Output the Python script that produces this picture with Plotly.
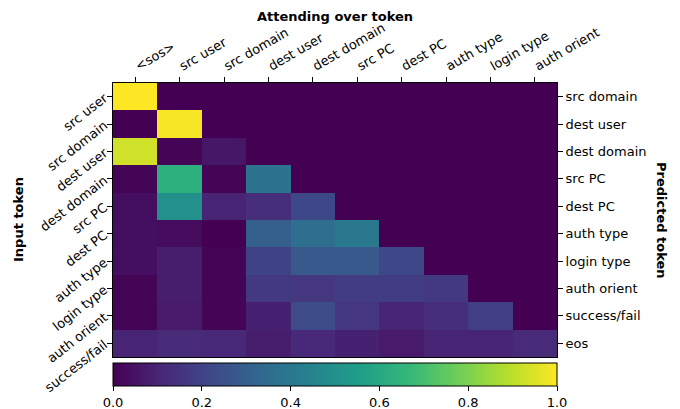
import plotly.graph_objects as go

attended = ["<sos>", "src user", "src domain", "dest user", "dest domain",
            "src PC", "dest PC", "auth type", "login type", "auth orient"]
inputs = ["src user", "src domain", "dest user", "dest domain", "src PC",
          "dest PC", "auth type", "login type", "auth orient", "success/fail"]
predicted = ["src domain", "dest user", "dest domain", "src PC", "dest PC",
             "auth type", "login type", "auth orient", "success/fail", "eos"]

attention = [
    [1.00, 0.00, 0.00, 0.00, 0.00, 0.00, 0.00, 0.00, 0.00, 0.00],
    [0.00, 0.99, 0.00, 0.00, 0.00, 0.00, 0.00, 0.00, 0.00, 0.00],
    [0.93, 0.01, 0.06, 0.00, 0.00, 0.00, 0.00, 0.00, 0.00, 0.00],
    [0.01, 0.63, 0.01, 0.38, 0.00, 0.00, 0.00, 0.00, 0.00, 0.00],
    [0.04, 0.50, 0.10, 0.13, 0.22, 0.00, 0.00, 0.00, 0.00, 0.00],
    [0.04, 0.03, 0.00, 0.30, 0.36, 0.40, 0.00, 0.00, 0.00, 0.00],
    [0.04, 0.08, 0.01, 0.20, 0.28, 0.28, 0.22, 0.00, 0.00, 0.00],
    [0.01, 0.08, 0.01, 0.17, 0.16, 0.18, 0.18, 0.17, 0.00, 0.00],
    [0.01, 0.07, 0.01, 0.09, 0.23, 0.16, 0.10, 0.13, 0.19, 0.00],
    [0.10, 0.12, 0.11, 0.08, 0.11, 0.09, 0.07, 0.10, 0.10, 0.12],
]
cbar_ticks = [0.0, 0.2, 0.4, 0.6, 0.8, 1.0]

FONT = "DejaVu Sans"
L, R, T, B = 113, 123, 83, 52
W, H = 680, 409
ph = H - T - B
pw = W - L - R

def px_x(x):
    return (x - L) / pw

def px_y(y):
    return (H - B - y) / ph

xs = list(range(len(attended)))
ys = list(range(len(inputs)))

fig = go.Figure()
fig.add_trace(go.Heatmap(
    z=attention, x=xs, y=ys, colorscale="Viridis", zmin=0, zmax=1,
    xaxis="x", yaxis="y", showscale=True,
    colorbar=dict(
        orientation="h", x=0.5, xanchor="center", xref="paper",
        y=px_y(363), yanchor="top", yref="paper",
        len=1.0, lenmode="fraction", thickness=23, thicknessmode="pixels",
        xpad=0, ypad=0, outlinewidth=1, outlinecolor="black",
        tickvals=cbar_ticks, ticktext=[f"{v:.1f}" for v in cbar_ticks],
        ticks="outside", ticklen=5, tickcolor="black",
        tickfont=dict(family=FONT, size=13, color="black"),
    ),
))
fig.add_trace(go.Scatter(x=[0], y=[0], xaxis="x", yaxis="y2", mode="markers",
                         marker=dict(opacity=0), showlegend=False, hoverinfo="skip"))

axcommon = dict(showline=True, linecolor="black", linewidth=1, mirror=True,
                ticks="outside", ticklen=5, tickcolor="black", showgrid=False,
                zeroline=False, automargin=False,
                tickfont=dict(family=FONT, size=13, color="black"))

tfont = dict(family=FONT, size=13, color="black")
fig.update_layout(
    width=W, height=H, margin=dict(l=L, r=R, t=T, b=B, autoexpand=False),
    plot_bgcolor="white", paper_bgcolor="white", showlegend=False,
    xaxis=dict(side="top", range=[-0.5, 9.5], tickvals=xs, ticktext=attended,
               tickangle=-30, **axcommon),
    yaxis=dict(range=[9.5, -0.5], tickvals=ys, ticktext=inputs, tickangle=-38,
               **axcommon),
    yaxis2=dict(range=[9.5, -0.5], tickvals=ys, ticktext=predicted, overlaying="y",
                side="right", anchor="x", showline=False, ticks="outside", ticklen=5,
                tickcolor="black", showgrid=False, zeroline=False, automargin=False,
                tickfont=tfont),
    annotations=[
        dict(text="<b>Attending over token</b>", x=px_x(335), y=px_y(16)),
        dict(text="<b>Input token</b>", x=px_x(18), y=px_y(220), textangle=-90),
        dict(text="<b>Predicted token</b>", x=px_x(662), y=px_y(220), textangle=90),
    ],
)
fig.update_annotations(xref="paper", yref="paper", showarrow=False, font=tfont,
                       xanchor="center", yanchor="middle")

fig.write_html("out.html", config={"displayModeBar": False},
               post_script="document.body.style.margin='0px';document.body.style.overflow='hidden';")
